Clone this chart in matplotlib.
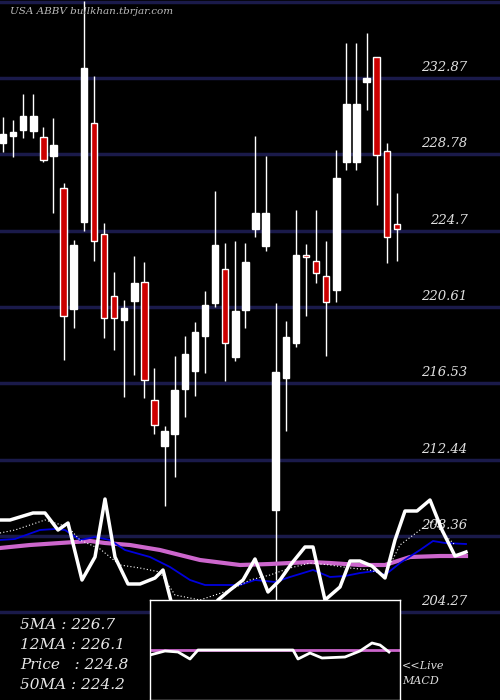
import matplotlib
matplotlib.use('Agg')
import matplotlib.pyplot as plt
from matplotlib.patches import Rectangle

# candles: open, high, low, close
opens  = [229.39, 229.77, 230.09, 230.05, 229.71, 228.70, 226.98, 220.50, 225.16, 230.46,
          224.52, 221.20, 219.92, 220.93, 221.95, 215.63, 213.17, 213.81, 216.22, 217.19,
          219.06, 220.83, 222.65, 217.94, 220.45, 224.79, 223.88, 209.74, 216.81, 218.69,
          223.40, 223.07, 222.27, 221.52, 228.37, 228.37, 232.66, 233.99, 228.96, 225.05]
closes = [229.87, 229.98, 230.84, 230.84, 228.48, 229.28, 220.13, 223.93, 233.41, 224.15,
          220.02, 220.02, 220.56, 221.90, 216.70, 214.29, 213.97, 216.17, 218.10, 219.27,
          220.72, 223.93, 218.69, 220.40, 223.02, 225.64, 225.64, 217.13, 219.01, 223.40,
          223.29, 222.43, 220.88, 227.52, 231.48, 231.48, 232.87, 228.75, 224.36, 224.79]
highs  = [230.78, 230.62, 232.01, 232.01, 230.25, 230.73, 227.25, 224.20, 237.00, 232.98,
          225.11, 222.49, 220.99, 223.34, 223.02, 217.35, 214.24, 217.99, 219.06, 219.81,
          221.47, 226.82, 224.04, 224.15, 224.04, 229.76, 228.70, 220.83, 219.86, 225.80,
          223.98, 225.80, 224.15, 229.02, 234.74, 234.74, 235.28, 233.99, 229.39, 226.71]
lows   = [228.91, 228.64, 229.66, 229.66, 228.37, 225.64, 217.77, 219.49, 224.68, 223.07,
          218.95, 218.31, 215.79, 216.97, 215.74, 213.81, 209.96, 211.51, 214.72, 215.85,
          217.08, 220.61, 216.65, 217.70, 219.49, 224.36, 223.61, 204.93, 213.97, 218.47,
          220.13, 221.90, 217.99, 220.88, 227.95, 227.95, 231.16, 226.07, 222.97, 223.07]
price_levels = [232.87, 228.78, 224.7, 220.61, 216.53, 212.44, 208.36, 204.27]

# overlay lines (own scale, screen-level units)
px_x  = [0, 10, 33, 45, 58, 68, 82, 95, 105, 115, 128, 140, 155, 163, 172, 190, 205, 218,
         230, 243, 255, 268, 280, 292, 305, 313, 325, 340, 350, 360, 372, 385, 395, 405,
         417, 430, 442, 455, 466]
px_y  = [520, 520, 513, 513, 530, 523, 580, 557, 499, 557, 584, 584, 578, 570, 605, 625, 620, 600,
         590, 580, 559, 592, 580, 563, 547, 547, 600, 587, 561, 561, 566, 578, 540, 511,
         511, 500, 530, 556, 552]
dot_x = [0, 15, 45, 55, 68, 80, 100, 120, 140, 160, 175, 200, 230, 250, 270, 290, 310, 330,
         350, 370, 385, 400, 420, 432, 445, 455]
dot_y = [533, 530, 520, 523, 527, 540, 549, 565, 568, 572, 595, 600, 590, 580, 575, 568, 563, 565,
         568, 570, 575, 545, 530, 521, 535, 545]
ma12_x = [0, 15, 40, 55, 65, 80, 95, 110, 125, 150, 170, 190, 205, 220, 240, 255, 275, 290,
          313, 330, 345, 360, 375, 385, 400, 420, 433, 445, 466]
ma12_y = [540, 539, 530, 529, 530, 540, 537, 540, 550, 557, 567, 580, 585, 585, 585, 580, 582, 577,
          570, 577, 576, 573, 571, 575, 563, 550, 541, 543, 544]
ma50_x = [0, 30, 60, 90, 105, 130, 160, 200, 240, 270, 310, 330, 360, 385, 410, 440, 466]
ma50_y = [548, 545, 543, 541, 543, 545, 550, 560, 565, 564, 562, 563, 565, 565, 557, 556, 556]

macd_x = [150, 165, 178, 190, 198, 240, 293, 298, 310, 322, 345, 360, 372, 380, 389]
macd_v = [-5, -1, -2, -9, 0, 0, 0, -9, -3, -8, -7, -1, 7, 5, -2]

stats = [('5MA', '226.7'), ('12MA', '226.1'), ('Price  ', '224.8'), ('50MA', '224.2')]

fig = plt.figure(figsize=(5, 7), dpi=100, facecolor='black')
ax = fig.add_axes([0, 0, 1, 1], facecolor='black')
ax.set_xlim(-0.297, 49.21)
ax.set_ylim(237.045 - 700 * 0.05353, 237.045)
ax.axis('off')

ax.axhline(236.95, color='#1a1a4a', lw=2.5, zorder=1)
for lv in price_levels:
    ax.axhline(lv, color='#1a1a4a', lw=2.5, zorder=1)
    ax.text(0.935, lv + 0.22, f'{lv:g}', transform=ax.get_yaxis_transform(), ha='right', va='bottom',
            color='#e0e0e0', fontsize=9.5, family='DejaVu Serif', style='italic', zorder=5)

for i, (o, h, l, c) in enumerate(zip(opens, highs, lows, closes)):
    up = c >= o
    ax.vlines(i, l, h, color='white', lw=1, zorder=3)
    ax.add_patch(Rectangle((i - 0.32, min(o, c)), 0.64, max(abs(c - o), 0.08),
                           facecolor='white' if up else '#cc0000', edgecolor='white', lw=1, zorder=4))

ov = fig.add_axes([0, 0, 1, 1], facecolor='none')
ov.set_xlim(0, 500)
ov.set_ylim(700, 0)
ov.axis('off')
ov.plot(ma50_x, ma50_y, color='#cc66cc', lw=3, zorder=5)
ov.plot(ma12_x, ma12_y, color='#0000dd', lw=1.3, zorder=6)
ov.plot(dot_x, dot_y, color='white', lw=0.8, ls=(0, (1, 2)), zorder=6)
ov.plot(px_x, px_y, color='white', lw=2.5, zorder=7)

ov.text(10, 12, 'USA ABBV bullkhan.tbrjar.com', color='#bbbbbb', fontsize=7.5,
        family='DejaVu Serif', style='italic', va='center')
for k, (name, val) in enumerate(stats):
    ov.text(20, 625 + k * 20, f'{name} : {val}', color='#e8e8e8', fontsize=11,
            family='DejaVu Serif', style='italic', va='center')
ov.text(402, 666, '<<Live', color='#dddddd', fontsize=8, family='DejaVu Serif', style='italic', va='center')
ov.text(402, 681, 'MACD', color='#dddddd', fontsize=8, family='DejaVu Serif', style='italic', va='center')

mx = fig.add_axes([0.3, 0, 0.5, 100 / 700], facecolor='black', zorder=10)
mx.set_xlim(150, 400)
mx.set_ylim(-50, 50)
mx.set_xticks([])
mx.set_yticks([])
for s in mx.spines.values():
    s.set_color('white')
    s.set_linewidth(1)
mx.axhline(0, color='#cc66cc', lw=2)
mx.plot(macd_x, macd_v, color='white', lw=2)

fig.savefig('out.png', dpi=100, facecolor='black')
